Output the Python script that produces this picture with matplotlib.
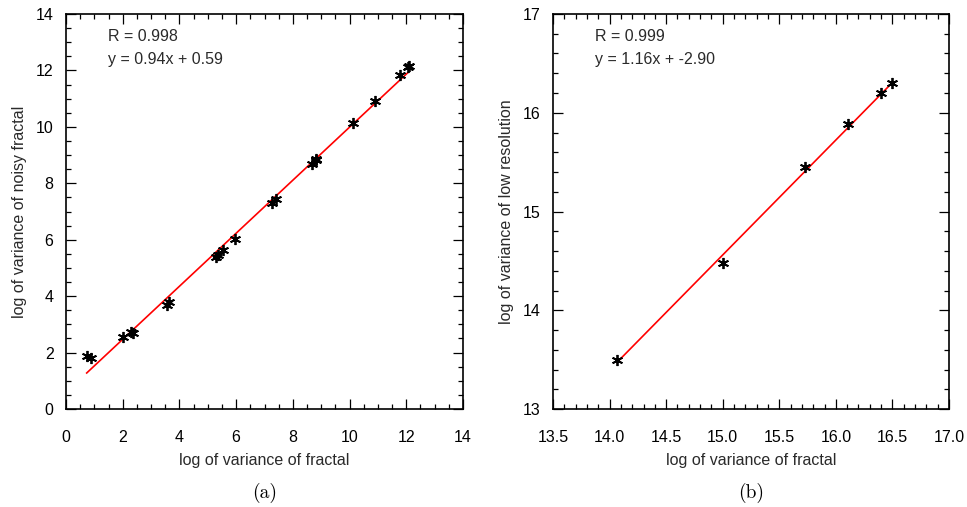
import numpy as np
import matplotlib
matplotlib.use("Agg")
import matplotlib.pyplot as plt
from matplotlib.ticker import MultipleLocator, FormatStrFormatter
from matplotlib.transforms import ScaledTranslation

# (a) fractal vs noisy fractal
fractal_a = [0.73, 0.87, 2.00, 2.28, 2.35, 3.57, 3.62, 5.29, 5.36, 5.52, 5.95,
             7.27, 7.42, 8.69, 8.81, 8.83, 10.12, 10.88, 11.79, 12.05, 12.10]
noisy_a = [1.89, 1.79, 2.55, 2.72, 2.69, 3.68, 3.78, 5.38, 5.45, 5.62, 6.04,
           7.30, 7.44, 8.69, 8.81, 8.85, 10.13, 10.93, 11.85, 12.11, 12.16]
r_a = 0.998
slope_a, icpt_a = 0.94, 0.59

# (b) fractal vs low resolution
fractal_b = [14.065, 15.00, 15.73, 16.11, 16.40, 16.50]
lowres_b = [13.50, 14.48, 15.45, 15.89, 16.20, 16.30]
r_b = 0.999
slope_b, icpt_b = 1.164, -2.90

SANS = "Liberation Sans"
TXT = "#2a2a2a"

fig = plt.figure(figsize=(9.67, 5.07), dpi=100)
W, H = 967, 507


def panel(rect, x, y, slope, icpt, r, xlim, ylim, xmaj, xmin, ymaj, ymin,
          xfmt, yfmt, ylabel, caption):
    l, t, r_, b = rect
    ax = fig.add_axes([l / W, 1 - b / H, (r_ - l) / W, (b - t) / H])
    ax.set_xlim(*xlim)
    ax.set_ylim(*ylim)
    xs = np.array([min(x), max(x)])
    ax.plot(xs, slope * xs + icpt, color="red", lw=1.2, zorder=2)
    ax.plot(x, y, ls="none", marker=(6, 2, 0), ms=8, mew=1.3,
            color="black", zorder=3)
    ax.xaxis.set_major_locator(MultipleLocator(xmaj))
    ax.xaxis.set_minor_locator(MultipleLocator(xmin))
    ax.yaxis.set_major_locator(MultipleLocator(ymaj))
    ax.yaxis.set_minor_locator(MultipleLocator(ymin))
    ax.xaxis.set_major_formatter(FormatStrFormatter(xfmt))
    ax.yaxis.set_major_formatter(FormatStrFormatter(yfmt))
    ax.tick_params(which="both", direction="in", top=True, right=True,
                   width=0.9, color="black")
    ax.tick_params(which="major", length=7)
    ax.tick_params(which="minor", length=3.5)
    ax.tick_params(axis="x", which="major", pad=15, labelsize=11.5)
    ax.tick_params(axis="y", which="major", pad=9, labelsize=11.5)
    for s in ax.spines.values():
        s.set_linewidth(1.2)
    for lab in ax.get_xticklabels() + ax.get_yticklabels():
        lab.set_fontfamily(SANS)
        lab.set_color("black")
    ylabs = ax.get_yticklabels()
    ylabs[0].set_transform(ylabs[0].get_transform() +
                           ScaledTranslation(0, 5 / 100, fig.dpi_scale_trans))
    ylabs[-1].set_transform(ylabs[-1].get_transform() +
                            ScaledTranslation(0, -8 / 100, fig.dpi_scale_trans))
    ax.set_xlabel("log of variance of fractal", family=SANS, fontsize=11.5,
                  color=TXT, labelpad=6)
    ax.set_ylabel(ylabel, family=SANS, fontsize=11.5, color=TXT, labelpad=6)
    ax.text(0.105, 0.942, f"R = {r:.3f}", transform=ax.transAxes,
            family=SANS, fontsize=11.5, color=TXT, va="center", ha="left")
    ax.text(0.105, 0.886, f"y = {slope:.2f}x + {icpt:.2f}",
            transform=ax.transAxes, family=SANS, fontsize=11.5, color=TXT,
            va="center", ha="left")
    fig.text(((l + r_) / 2) / W, 1 - 493 / H, caption, family="cmr10",
             fontsize=14, ha="center", va="center")
    return ax


panel((66, 14, 463, 409), fractal_a, noisy_a, slope_a, icpt_a, r_a,
      (0, 14), (0, 14), 2, 0.5, 2, 0.5, "%d", "%d",
      "log of variance of noisy fractal", "(a)")
panel((553, 14, 949, 409), fractal_b, lowres_b, slope_b, icpt_b, r_b,
      (13.5, 17.0), (13, 17), 0.5, 0.1, 1, 0.2, "%.1f", "%d",
      "log of variance of low resolution", "(b)")

fig.savefig("out.png", dpi=100)
